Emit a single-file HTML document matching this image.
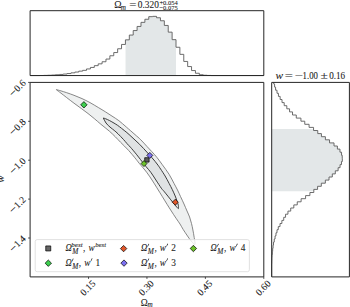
<!DOCTYPE html>
<html><head><meta charset="utf-8"><style>
html,body{margin:0;padding:0;background:#fff;}
body{width:350px;height:307px;overflow:hidden;font-family:"Liberation Serif",serif;}
svg{display:block;}
text{stroke:#1a1a1a;stroke-width:0.08px;}
</style></head><body>
<svg width="350" height="307" viewBox="0 0 350 307" font-family="'Liberation Serif', serif" fill="#1a1a1a" stroke-linejoin="round"><rect x="0" y="0" width="350" height="307" fill="#fff"/>
<path d="M125.53,75.55 L125.53,39.85 L129.32,39.85 L129.32,35.05 L133.21,35.05 L133.21,30.55 L137.10,30.55 L137.10,26.45 L140.99,26.45 L140.99,22.35 L144.88,22.35 L144.88,19.25 L148.77,19.25 L148.77,16.65 L152.66,16.65 L152.66,16.35 L156.55,16.35 L156.55,17.75 L160.44,17.75 L160.44,20.75 L164.33,20.75 L164.33,25.45 L168.22,25.45 L168.22,32.15 L172.11,32.15 L172.11,39.65 L175.97,39.65 L175.97,75.55 Z" fill="#e3e7e8"/>
<path d="M30.10,75.55 L39.85,75.55 L39.85,75.50 L43.74,75.50 L43.74,75.40 L47.63,75.40 L47.63,75.25 L51.52,75.25 L51.52,75.05 L55.41,75.05 L55.41,74.75 L59.30,74.75 L59.30,74.45 L63.19,74.45 L63.19,74.05 L67.08,74.05 L67.08,73.55 L70.97,73.55 L70.97,72.85 L74.86,72.85 L74.86,72.05 L78.75,72.05 L78.75,71.15 L82.64,71.15 L82.64,70.35 L86.53,70.35 L86.53,68.95 L90.42,68.95 L90.42,67.45 L94.31,67.45 L94.31,65.65 L98.20,65.65 L98.20,63.85 L102.09,63.85 L102.09,61.75 L105.98,61.75 L105.98,59.05 L109.87,59.05 L109.87,55.75 L113.76,55.75 L113.76,52.55 L117.65,52.55 L117.65,48.75 L121.54,48.75 L121.54,44.45 L125.43,44.45 L125.43,39.85 L129.32,39.85 L129.32,35.05 L133.21,35.05 L133.21,30.55 L137.10,30.55 L137.10,26.45 L140.99,26.45 L140.99,22.35 L144.88,22.35 L144.88,19.25 L148.77,19.25 L148.77,16.65 L152.66,16.65 L152.66,16.35 L156.55,16.35 L156.55,17.75 L160.44,17.75 L160.44,20.75 L164.33,20.75 L164.33,25.45 L168.22,25.45 L168.22,32.15 L172.11,32.15 L172.11,39.65 L176.00,39.65 L176.00,47.25 L179.89,47.25 L179.89,54.35 L183.78,54.35 L183.78,61.45 L187.67,61.45 L187.67,66.55 L191.56,66.55 L191.56,70.55 L195.45,70.55 L195.45,73.25 L199.34,73.25 L199.34,74.75 L203.23,74.75 L203.23,75.25 L207.12,75.25 L207.12,75.45 L211.01,75.45 L211.01,75.55 L263.80,75.55" fill="none" stroke="#5c5c5c" stroke-width="0.9"/>
<rect x="30.1" y="10.7" width="233.70" height="64.85" fill="none" stroke="#262626" stroke-width="1"/>
<path d="M56.40,89.60 C57.17,89.82 59.28,90.38 61.00,90.90 C62.72,91.42 64.53,91.97 66.70,92.70 C68.87,93.43 71.45,94.32 74.00,95.30 C76.55,96.28 79.33,97.38 82.00,98.60 C84.67,99.82 87.28,101.12 90.00,102.60 C92.72,104.08 95.73,105.97 98.30,107.50 C100.87,109.03 103.12,110.37 105.40,111.80 C107.68,113.23 109.75,114.62 112.00,116.10 C114.25,117.58 116.52,118.88 118.90,120.70 C121.28,122.52 123.62,124.68 126.30,127.00 C128.98,129.32 132.60,132.48 135.00,134.60 C137.40,136.72 138.70,137.72 140.70,139.70 C142.70,141.68 145.17,144.53 147.00,146.50 C148.83,148.47 150.05,149.68 151.70,151.50 C153.35,153.32 155.13,155.20 156.90,157.40 C158.67,159.60 160.27,161.88 162.30,164.70 C164.33,167.52 167.15,171.18 169.10,174.30 C171.05,177.42 172.60,180.78 174.00,183.40 C175.40,186.02 176.42,187.82 177.50,190.00 C178.58,192.18 179.42,194.17 180.50,196.50 C181.58,198.83 182.92,201.58 184.00,204.00 C185.08,206.42 186.07,208.83 187.00,211.00 C187.93,213.17 188.85,214.92 189.60,217.00 C190.35,219.08 190.95,221.33 191.50,223.50 C192.05,225.67 192.45,227.67 192.90,230.00 C193.35,232.33 193.85,235.08 194.20,237.50 C194.55,239.92 195.50,243.92 195.00,244.50 C194.50,245.08 192.45,242.42 191.20,241.00 C189.95,239.58 188.83,237.92 187.50,236.00 C186.17,234.08 184.45,231.50 183.20,229.50 C181.95,227.50 181.20,225.88 180.00,224.00 C178.80,222.12 177.45,220.37 176.00,218.20 C174.55,216.03 172.75,213.25 171.30,211.00 C169.85,208.75 168.78,207.08 167.30,204.70 C165.82,202.32 164.13,199.52 162.40,196.70 C160.67,193.88 158.63,190.58 156.90,187.80 C155.17,185.02 153.72,182.60 152.00,180.00 C150.28,177.40 148.70,174.95 146.60,172.20 C144.50,169.45 141.35,165.90 139.40,163.50 C137.45,161.10 136.70,159.98 134.90,157.80 C133.10,155.62 130.98,152.98 128.60,150.40 C126.22,147.82 122.82,144.57 120.60,142.30 C118.38,140.03 117.17,138.65 115.30,136.80 C113.43,134.95 111.82,133.30 109.40,131.20 C106.98,129.10 103.32,126.30 100.80,124.20 C98.28,122.10 96.43,120.38 94.30,118.60 C92.17,116.82 90.17,115.18 88.00,113.50 C85.83,111.82 83.63,110.22 81.30,108.50 C78.97,106.78 76.43,105.02 74.00,103.20 C71.57,101.38 68.87,99.27 66.70,97.60 C64.53,95.93 62.72,94.50 61.00,93.20 C59.28,91.90 57.17,90.37 56.40,89.80 Z" fill="#eef0f0" stroke="#6a6a6a" stroke-width="0.8"/>
<path d="M103.30,118.00 C103.67,118.12 104.48,118.28 105.50,118.70 C106.52,119.12 108.15,119.87 109.40,120.50 C110.65,121.13 111.67,121.72 113.00,122.50 C114.33,123.28 115.98,124.23 117.40,125.20 C118.82,126.17 119.92,127.07 121.50,128.30 C123.08,129.53 125.32,131.27 126.90,132.60 C128.48,133.93 129.65,135.07 131.00,136.30 C132.35,137.53 133.57,138.67 135.00,140.00 C136.43,141.33 138.17,142.88 139.60,144.30 C141.03,145.72 142.25,147.05 143.60,148.50 C144.95,149.95 146.35,151.52 147.70,153.00 C149.05,154.48 150.47,156.00 151.70,157.40 C152.93,158.80 154.05,160.10 155.10,161.40 C156.15,162.70 157.08,163.93 158.00,165.20 C158.92,166.47 159.42,167.20 160.60,169.00 C161.78,170.80 163.68,173.60 165.10,176.00 C166.52,178.40 167.90,181.13 169.10,183.40 C170.30,185.67 171.28,187.50 172.30,189.60 C173.32,191.70 174.38,194.02 175.20,196.00 C176.02,197.98 176.67,199.92 177.20,201.50 C177.73,203.08 178.20,204.33 178.40,205.50 C178.60,206.67 178.55,208.10 178.40,208.50 C178.25,208.90 177.93,208.32 177.50,207.90 C177.07,207.48 176.55,206.88 175.80,206.00 C175.05,205.12 174.22,204.12 173.00,202.60 C171.78,201.08 170.02,198.80 168.50,196.90 C166.98,195.00 165.10,192.65 163.90,191.20 C162.70,189.75 162.63,190.07 161.30,188.20 C159.97,186.33 157.65,182.65 155.90,180.00 C154.15,177.35 152.42,174.50 150.80,172.30 C149.18,170.10 147.68,168.62 146.20,166.80 C144.72,164.98 143.05,162.87 141.90,161.40 C140.75,159.93 140.23,159.20 139.30,158.00 C138.37,156.80 137.35,155.50 136.30,154.20 C135.25,152.90 133.98,151.37 133.00,150.20 C132.02,149.03 131.40,148.30 130.40,147.20 C129.40,146.10 128.17,144.90 127.00,143.60 C125.83,142.30 124.90,141.03 123.40,139.40 C121.90,137.77 119.53,135.30 118.00,133.80 C116.47,132.30 115.37,131.38 114.20,130.40 C113.03,129.42 111.98,128.70 111.00,127.90 C110.02,127.10 109.13,126.42 108.30,125.60 C107.47,124.78 106.65,123.90 106.00,123.00 C105.35,122.10 104.85,121.03 104.40,120.20 C103.95,119.37 103.48,118.37 103.30,118.00 Z" fill="#e0e3e4" stroke="#333" stroke-width="0.95"/>
<path d="M83.90,101.60 L87.10,104.80 L83.90,108.00 L80.70,104.80 Z" fill="#3ccf4e" stroke="#000" stroke-width="0.7"/>
<rect x="144.70" y="157.70" width="4.4" height="4.4" fill="#5c5c5c" stroke="#000" stroke-width="0.7"/>
<path d="M144.00,160.60 L147.00,163.60 L144.00,166.60 L141.00,163.60 Z" fill="#6cc12a" stroke="#000" stroke-width="0.7"/>
<path d="M149.80,152.40 L152.80,155.40 L149.80,158.40 L146.80,155.40 Z" fill="#7b6ff0" stroke="#000" stroke-width="0.7"/>
<path d="M175.30,199.20 L178.30,202.20 L175.30,205.20 L172.30,202.20 Z" fill="#e0562a" stroke="#000" stroke-width="0.7"/>
<rect x="35.2" y="239.6" width="214.2" height="32.1" rx="2" ry="2" fill="#fff" fill-opacity="0.8" stroke="#d9d9d9" stroke-width="0.8"/>
<rect x="45.75" y="245.95" width="5.0" height="5.0" fill="#666" stroke="#000" stroke-width="0.7"/>
<path d="M48.30,260.00 L51.50,263.20 L48.30,266.40 L45.10,263.20 Z" fill="#3ccf4e" stroke="#000" stroke-width="0.7"/>
<path d="M123.60,245.40 L126.80,248.60 L123.60,251.80 L120.40,248.60 Z" fill="#e0562a" stroke="#000" stroke-width="0.7"/>
<path d="M124.00,259.90 L127.20,263.10 L124.00,266.30 L120.80,263.10 Z" fill="#7b6ff0" stroke="#000" stroke-width="0.7"/>
<path d="M193.40,245.30 L196.60,248.50 L193.40,251.70 L190.20,248.50 Z" fill="#6cc12a" stroke="#000" stroke-width="0.7"/>
<text x="65.51" y="251.00" font-size="9.3" font-style="italic" textLength="6.29" lengthAdjust="spacingAndGlyphs">Ω</text>
<text x="71.33" y="247.30" font-size="7.0" font-style="italic" textLength="11.35" lengthAdjust="spacingAndGlyphs">best</text>
<text x="72.37" y="254.00" font-size="7.3" font-style="italic">M</text>
<text x="82.93" y="251.00" font-size="9.3">,</text>
<text x="88.52" y="251.00" font-size="9.3" font-style="italic">w</text>
<text x="95.13" y="247.30" font-size="7.0" font-style="italic" textLength="10.94" lengthAdjust="spacingAndGlyphs">best</text>
<text x="65.41" y="265.70" font-size="9.3" font-style="italic" textLength="6.29" lengthAdjust="spacingAndGlyphs">Ω</text>
<path d="M72.95,258.40 L73.65,258.70 L72.15,261.40 L71.70,261.20 Z" fill="#1a1a1a"/>
<text x="72.17" y="268.70" font-size="7.3" font-style="italic">M</text>
<text x="78.83" y="265.70" font-size="9.3">,</text>
<text x="84.22" y="265.70" font-size="9.3" font-style="italic">w</text>
<path d="M91.85,258.30 L92.55,258.60 L91.05,261.30 L90.60,261.10 Z" fill="#1a1a1a"/>
<text x="95.60" y="265.70" font-size="9.3">1</text>
<text x="141.01" y="251.00" font-size="9.3" font-style="italic" textLength="6.29" lengthAdjust="spacingAndGlyphs">Ω</text>
<path d="M148.55,243.70 L149.25,244.00 L147.75,246.70 L147.30,246.50 Z" fill="#1a1a1a"/>
<text x="147.77" y="254.00" font-size="7.3" font-style="italic">M</text>
<text x="154.43" y="251.00" font-size="9.3">,</text>
<text x="159.82" y="251.00" font-size="9.3" font-style="italic">w</text>
<path d="M167.45,243.60 L168.15,243.90 L166.65,246.60 L166.20,246.40 Z" fill="#1a1a1a"/>
<text x="171.20" y="251.00" font-size="9.3">2</text>
<text x="141.01" y="265.70" font-size="9.3" font-style="italic" textLength="6.29" lengthAdjust="spacingAndGlyphs">Ω</text>
<path d="M148.55,258.40 L149.25,258.70 L147.75,261.40 L147.30,261.20 Z" fill="#1a1a1a"/>
<text x="147.77" y="268.70" font-size="7.3" font-style="italic">M</text>
<text x="154.43" y="265.70" font-size="9.3">,</text>
<text x="159.82" y="265.70" font-size="9.3" font-style="italic">w</text>
<path d="M167.45,258.30 L168.15,258.60 L166.65,261.30 L166.20,261.10 Z" fill="#1a1a1a"/>
<text x="171.20" y="265.70" font-size="9.3">3</text>
<text x="210.61" y="251.00" font-size="9.3" font-style="italic" textLength="6.29" lengthAdjust="spacingAndGlyphs">Ω</text>
<path d="M218.15,243.70 L218.85,244.00 L217.35,246.70 L216.90,246.50 Z" fill="#1a1a1a"/>
<text x="217.37" y="254.00" font-size="7.3" font-style="italic">M</text>
<text x="224.03" y="251.00" font-size="9.3">,</text>
<text x="229.42" y="251.00" font-size="9.3" font-style="italic">w</text>
<path d="M237.05,243.60 L237.75,243.90 L236.25,246.60 L235.80,246.40 Z" fill="#1a1a1a"/>
<text x="240.80" y="251.00" font-size="9.3">4</text>
<rect x="30.1" y="82.4" width="233.70" height="194.50" fill="none" stroke="#262626" stroke-width="1"/>
<path d="M271.70,129.08 L313.56,129.08 L313.56,130.50 L317.76,130.50 L317.76,133.60 L321.43,133.60 L321.43,136.70 L325.40,136.70 L325.40,139.80 L329.54,139.80 L329.54,142.90 L334.02,142.90 L334.02,146.00 L337.40,146.00 L337.40,149.10 L339.98,149.10 L339.98,152.20 L341.56,152.20 L341.56,155.30 L342.23,155.30 L342.23,158.40 L342.33,158.40 L342.33,161.50 L341.49,161.50 L341.49,164.60 L340.06,164.60 L340.06,167.70 L338.12,167.70 L338.12,170.80 L335.31,170.80 L335.31,173.90 L332.30,173.90 L332.30,177.00 L329.03,177.00 L329.03,180.10 L325.35,180.10 L325.35,183.20 L321.32,183.20 L321.32,186.30 L317.58,186.30 L317.58,189.40 L313.80,189.40 L313.80,191.32 L271.70,191.32 Z" fill="#e3e7e8"/>
<path d="M273.73,82.40 L273.73,82.40 L273.73,84.00 L274.59,84.00 L274.59,87.10 L275.57,87.10 L275.57,90.20 L277.00,90.20 L277.00,93.30 L278.43,93.30 L278.43,96.40 L280.15,96.40 L280.15,99.50 L282.03,99.50 L282.03,102.60 L284.19,102.60 L284.19,105.70 L286.80,105.70 L286.80,108.80 L289.55,108.80 L289.55,111.90 L292.53,111.90 L292.53,115.00 L296.28,115.00 L296.28,118.10 L300.93,118.10 L300.93,121.20 L304.75,121.20 L304.75,124.30 L309.08,124.30 L309.08,127.40 L313.56,127.40 L313.56,130.50 L317.76,130.50 L317.76,133.60 L321.43,133.60 L321.43,136.70 L325.40,136.70 L325.40,139.80 L329.54,139.80 L329.54,142.90 L334.02,142.90 L334.02,146.00 L337.40,146.00 L337.40,149.10 L339.98,149.10 L339.98,152.20 L341.56,152.20 L341.56,155.30 L342.23,155.30 L342.23,158.40 L342.33,158.40 L342.33,161.50 L341.49,161.50 L341.49,164.60 L340.06,164.60 L340.06,167.70 L338.12,167.70 L338.12,170.80 L335.31,170.80 L335.31,173.90 L332.30,173.90 L332.30,177.00 L329.03,177.00 L329.03,180.10 L325.35,180.10 L325.35,183.20 L321.32,183.20 L321.32,186.30 L317.58,186.30 L317.58,189.40 L313.80,189.40 L313.80,192.50 L309.90,192.50 L309.90,195.60 L305.59,195.60 L305.59,198.70 L301.11,198.70 L301.11,201.80 L297.25,201.80 L297.25,204.90 L293.82,204.90 L293.82,208.00 L290.72,208.00 L290.72,211.10 L287.95,211.10 L287.95,214.20 L285.56,214.20 L285.56,217.30 L283.73,217.30 L283.73,220.40 L281.89,220.40 L281.89,223.50 L280.03,223.50 L280.03,226.60 L278.27,226.60 L278.27,229.70 L277.01,229.70 L277.01,232.80 L275.97,232.80 L275.97,235.90 L275.05,235.90 L275.05,239.00 L274.24,239.00 L274.24,242.10 L273.51,242.10 L273.51,245.20 L273.08,245.20 L273.08,248.30 L272.66,248.30 L272.66,251.40 L272.33,251.40 L272.33,254.50 L272.00,254.50 L272.00,257.60 L271.89,257.60 L271.89,260.70 L271.79,260.70 L271.79,263.80 L271.70,263.80 L271.70,266.90 L271.70,266.90 L271.70,270.00 L271.70,270.00 L271.70,273.10 L271.70,273.10 L271.70,276.20 L271.70,276.20 L271.70,276.90" fill="none" stroke="#5c5c5c" stroke-width="0.9"/>
<rect x="271.7" y="82.4" width="77.70" height="194.50" fill="none" stroke="#262626" stroke-width="1"/>
<line x1="88.53" y1="276.9" x2="88.53" y2="278.90" stroke="#262626" stroke-width="0.8"/>
<line x1="146.95" y1="276.9" x2="146.95" y2="278.90" stroke="#262626" stroke-width="0.8"/>
<line x1="205.38" y1="276.9" x2="205.38" y2="278.90" stroke="#262626" stroke-width="0.8"/>
<line x1="263.80" y1="276.9" x2="263.80" y2="278.90" stroke="#262626" stroke-width="0.8"/>
<line x1="28.10" y1="82.40" x2="30.1" y2="82.40" stroke="#262626" stroke-width="0.8"/>
<line x1="28.10" y1="121.30" x2="30.1" y2="121.30" stroke="#262626" stroke-width="0.8"/>
<line x1="28.10" y1="160.20" x2="30.1" y2="160.20" stroke="#262626" stroke-width="0.8"/>
<line x1="28.10" y1="199.10" x2="30.1" y2="199.10" stroke="#262626" stroke-width="0.8"/>
<line x1="28.10" y1="238.00" x2="30.1" y2="238.00" stroke="#262626" stroke-width="0.8"/>
<text x="96.12" y="284.20" font-size="9.7" text-anchor="end" transform="rotate(-45 96.12 284.20)">0.15</text>
<text x="154.55" y="284.20" font-size="9.7" text-anchor="end" transform="rotate(-45 154.55 284.20)">0.30</text>
<text x="212.97" y="284.20" font-size="9.7" text-anchor="end" transform="rotate(-45 212.97 284.20)">0.45</text>
<text x="271.40" y="284.20" font-size="9.7" text-anchor="end" transform="rotate(-45 271.40 284.20)">0.60</text>
<text x="26.40" y="83.70" font-size="9.7" text-anchor="end" transform="rotate(-45 26.40 83.70)"><tspan textLength="7.0" lengthAdjust="spacingAndGlyphs">−</tspan>0.6</text>
<text x="26.40" y="122.60" font-size="9.7" text-anchor="end" transform="rotate(-45 26.40 122.60)"><tspan textLength="7.0" lengthAdjust="spacingAndGlyphs">−</tspan>0.8</text>
<text x="26.40" y="161.50" font-size="9.7" text-anchor="end" transform="rotate(-45 26.40 161.50)"><tspan textLength="7.0" lengthAdjust="spacingAndGlyphs">−</tspan>1.0</text>
<text x="26.40" y="200.40" font-size="9.7" text-anchor="end" transform="rotate(-45 26.40 200.40)"><tspan textLength="7.0" lengthAdjust="spacingAndGlyphs">−</tspan>1.2</text>
<text x="26.40" y="239.30" font-size="9.7" text-anchor="end" transform="rotate(-45 26.40 239.30)"><tspan textLength="7.0" lengthAdjust="spacingAndGlyphs">−</tspan>1.4</text>
<text x="140.70" y="305.80" font-size="10.6" textLength="7.00" lengthAdjust="spacingAndGlyphs">Ω</text>
<text x="147.50" y="307.30" font-size="7.2" font-style="italic">m</text>
<text x="0" y="0" font-size="11.0" font-style="italic" transform="translate(4.3 182.8) rotate(-90)">w</text>
<text x="114.30" y="8.40" font-size="10.6" textLength="7.35" lengthAdjust="spacingAndGlyphs">Ω</text>
<text x="120.71" y="9.70" font-size="7.2" font-style="italic">m</text>
<text x="129.30" y="8.30" font-size="9.8" textLength="7.20" lengthAdjust="spacingAndGlyphs">=</text>
<text x="137.80" y="8.10" font-size="9.8" textLength="21.10" lengthAdjust="spacingAndGlyphs">0.320</text>
<text x="159.40" y="4.60" font-size="7.0" textLength="18.40" lengthAdjust="spacingAndGlyphs">+0.054</text>
<text x="159.40" y="9.80" font-size="6.8" textLength="18.40" lengthAdjust="spacingAndGlyphs">−0.075</text>
<text x="275.40" y="79.30" font-size="9.8" font-style="italic" textLength="7.60" lengthAdjust="spacingAndGlyphs">w</text>
<text x="284.80" y="79.30" font-size="9.8" textLength="8.16" lengthAdjust="spacingAndGlyphs">=</text>
<text x="294.70" y="79.30" font-size="9.8" textLength="8.29" lengthAdjust="spacingAndGlyphs">−</text>
<text x="302.60" y="79.30" font-size="9.8" textLength="15.30" lengthAdjust="spacingAndGlyphs">1.00</text>
<text x="320.50" y="79.30" font-size="9.8" textLength="7.37" lengthAdjust="spacingAndGlyphs">±</text>
<text x="329.20" y="79.30" font-size="9.8" textLength="15.95" lengthAdjust="spacingAndGlyphs">0.16</text></svg>
</body></html>
